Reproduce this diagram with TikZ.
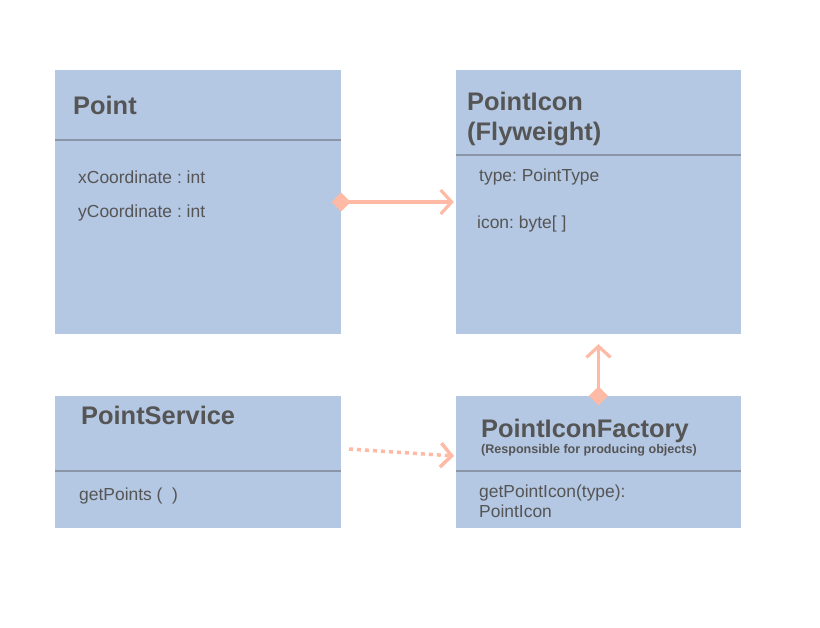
\documentclass[tikz,border=0pt]{standalone}
\usepackage{fontspec}
\setmainfont{Liberation Sans}
\usetikzlibrary{arrows.meta}
\definecolor{boxblue}{HTML}{B4C7E3}
\definecolor{rulegray}{HTML}{8A95A8}
\definecolor{textgray}{HTML}{555555}
\definecolor{salmon}{HTML}{FFBAA6}
\frenchspacing
\begin{document}
\begin{tikzpicture}[x=1bp,y=-1bp,
	classbox/.style={fill=boxblue,draw=none,minimum width=286bp,inner sep=0},
	divider/.style={draw=rulegray,line width=1.3bp},
	title/.style={anchor=west,inner sep=0,text=textgray,font=\fontsize{25.5}{30}\selectfont\bfseries,align=left},
	subtitle/.style={anchor=west,inner sep=0,text=textgray,font=\fontsize{12.6}{14}\selectfont\bfseries},
	member/.style={anchor=west,inner sep=0,text=textgray,font=\fontsize{17.5}{20}\selectfont,align=left},
	relation/.style={draw=salmon,line width=3.2bp,{Diamond[length=19bp,width=19bp,fill=salmon]}-{Straight Barb[length=11bp,width=24bp]},shorten <=-9.5bp},
	dependency/.style={draw=salmon,line width=3.5bp,dash pattern=on 4bp off 4bp,-{Straight Barb[length=11bp,width=24bp]}}]
	\useasboundingbox (0,0) rectangle (820,628);
	% class boxes
	\node[classbox,minimum height=264bp] (point) at (198,202) {};
	\node[classbox,minimum width=285bp,minimum height=264bp] (icon) at (598.5,202) {};
	\node[classbox,minimum height=132bp] (service) at (198,462) {};
	\node[classbox,minimum width=285bp,minimum height=132bp] (factory) at (598.5,462) {};
	\draw[divider] (point.west |- 0,140) -- (point.east |- 0,140);
	\draw[divider] (icon.west |- 0,155) -- (icon.east |- 0,155);
	\draw[divider] (service.west |- 0,471) -- (service.east |- 0,471);
	\draw[divider] (factory.west |- 0,471) -- (factory.east |- 0,471);
	% texts
	\node[title] (pointname) at (73,105) {Point};
	\node[member] (xcoord) at (78,177) {xCoordinate : int};
	\node[member] (ycoord) at (78,213) {yCoordinate : int};
	\node[title] (iconname) at (467,119) {PointIcon\\(Flyweight)};
	\node[member] (icontype) at (479,177) {type: PointType};
	\node[member] (iconbytes) at (477,224) {icon: byte[ ]};
	\node[title] (servicename) at (81,415) {PointService};
	\node[member] (getpoints) at (79,496) {getPoints (\ \ )};
	\node[title] (factoryname) at (481,431) {PointIconFactory};
	\node[subtitle] (factorynote) at (481,450) {(Responsible for producing objects)};
	\node[member] (geticon) at (479,501) {getPointIcon(type):\\PointIcon};
	% connectors
	\coordinate (dotstart) at (349,449);
	\coordinate (dotend) at (454,456);
	\draw[relation,shorten >=2bp] (point.east) -- (icon.west);
	\draw[relation,shorten >=10bp] (factory.north) -- (icon.south);
	\draw[dependency] (dotstart) -- (dotend);
\end{tikzpicture}
\end{document}
